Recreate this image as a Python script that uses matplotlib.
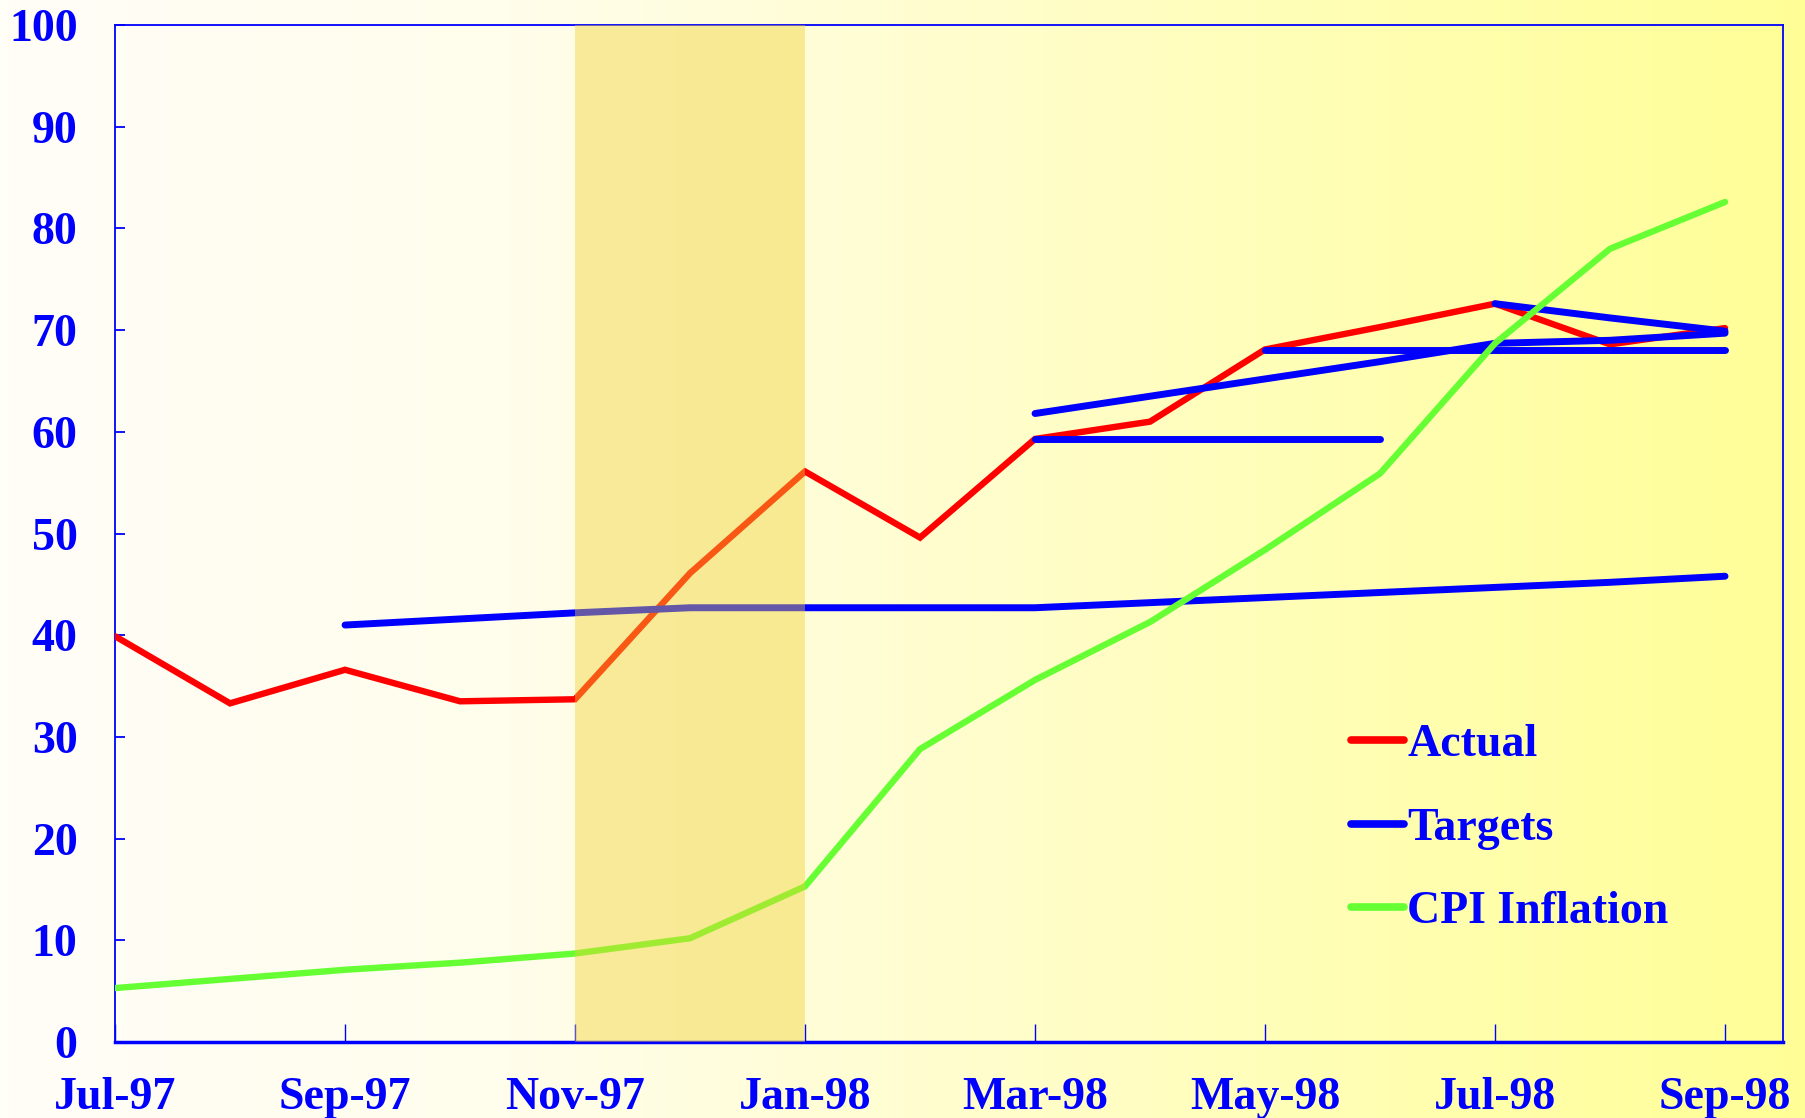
import numpy as np
import matplotlib
matplotlib.use("Agg")
import matplotlib.pyplot as plt
from matplotlib.colors import LinearSegmentedColormap

# month labels (every other month is labelled)
months = ["Jul-97", "Aug-97", "Sep-97", "Oct-97", "Nov-97", "Dec-97", "Jan-98",
          "Feb-98", "Mar-98", "Apr-98", "May-98", "Jun-98", "Jul-98", "Aug-98", "Sep-98"]
tick_labels = months[::2]

actual = [39.9, 33.3, 36.6, 33.5, 33.7, 46.1, 56.1, 49.6, 59.3, 61.0, 68.1, 70.3, 72.6, 68.6, 70.2]
cpi = [5.3, 6.2, 7.1, 7.8, 8.7, 10.2, 15.3, 28.8, 35.6, 41.3, 48.4, 55.9, 68.7, 78.0, 82.6]

# target paths: (first month index, values)
target_a = (2, [41.0, 41.6, 42.2, 42.7, 42.7, 42.7, 42.7, 43.2, 43.7, 44.2, 44.7, 45.2, 45.8])
target_b = (8, [59.3, 59.3, 59.3, 59.3])
target_c = (8, [61.8, 63.5, 65.2, 66.9, 68.7, 69.0, 69.7])
target_d = (10, [68.0, 68.0, 68.0, 68.0, 68.0])
target_e = (12, [72.6, 71.2, 69.9])
targets = [target_a, target_b, target_c, target_d, target_e]

crisis = (4, 6)  # shaded Nov-97 .. Jan-98

BLUE = "#0000ff"
RED = "#ff0000"
GREEN = "#66ff33"
font = ["Liberation Serif", "DejaVu Serif"]
fs = 33

fig = plt.figure(figsize=(18.06, 11.18), dpi=100)

# gradient background over whole figure
bg = fig.add_axes([0, 0, 1, 1])
bg.set_zorder(0)
cmap = LinearSegmentedColormap.from_list(
    "bg", [(0.0, (1.0, 254/255, 247/255)), (0.28, (1.0, 253/255, 235/255)),
           (1.0, (1.0, 1.0, 150/255))])
bg.imshow(np.linspace(0, 1, 512)[None, :], aspect="auto", cmap=cmap, extent=[0, 1, 0, 1])
bg.axis("off")

ax = fig.add_axes([0.0637, 0.068, 0.9233, 0.9096])
ax.set_zorder(1)
ax.patch.set_alpha(0)

x = np.arange(len(months))
ax.plot(x, actual, color=RED, lw=4.6, solid_capstyle="round", solid_joinstyle="miter",
        label="Actual", zorder=3)
for i, (start, vals) in enumerate(targets):
    xs = np.arange(start, start + len(vals))
    ax.plot(xs, vals, color=BLUE, lw=5.0, solid_capstyle="round",
            label="Targets" if i == 0 else None, zorder=4)
ax.plot(x, cpi, color=GREEN, lw=4.6, solid_capstyle="round", label="CPI Inflation", zorder=5)

ax.axvspan(crisis[0], crisis[1], color="#f0d030", alpha=0.42, lw=0, zorder=10)

ax.set_xlim(0, 14.5)
ax.set_ylim(0, 100)
ax.set_xticks(x[::2])
ax.set_xticklabels(tick_labels)
ax.set_yticks(np.arange(0, 101, 10))

for s in ax.spines.values():
    s.set_color(BLUE)
    s.set_linewidth(1.3)
ax.spines["bottom"].set_linewidth(2.5)
ax.tick_params(axis="x", direction="in", length=13, width=1, color=BLUE, pad=25)
ax.tick_params(axis="y", direction="in", length=7, width=1.3, color=BLUE, pad=27)
for lab in ax.get_xticklabels() + ax.get_yticklabels():
    lab.set_fontfamily(font)
    lab.set_fontweight("bold")
    lab.set_fontsize(fs)
    lab.set_color(BLUE)

leg = ax.legend(loc="upper left", bbox_to_anchor=(0.741, 0.313), frameon=False,
                handlelength=1.16, handletextpad=0.08, labelspacing=0.91,
                borderpad=0, borderaxespad=0,
                prop={"family": font, "weight": "bold", "size": fs})
for t in leg.get_texts():
    t.set_color(BLUE)
for h in leg.legend_handles:
    h.set_linewidth(5.5)

fig.savefig("out.png", dpi=100)
